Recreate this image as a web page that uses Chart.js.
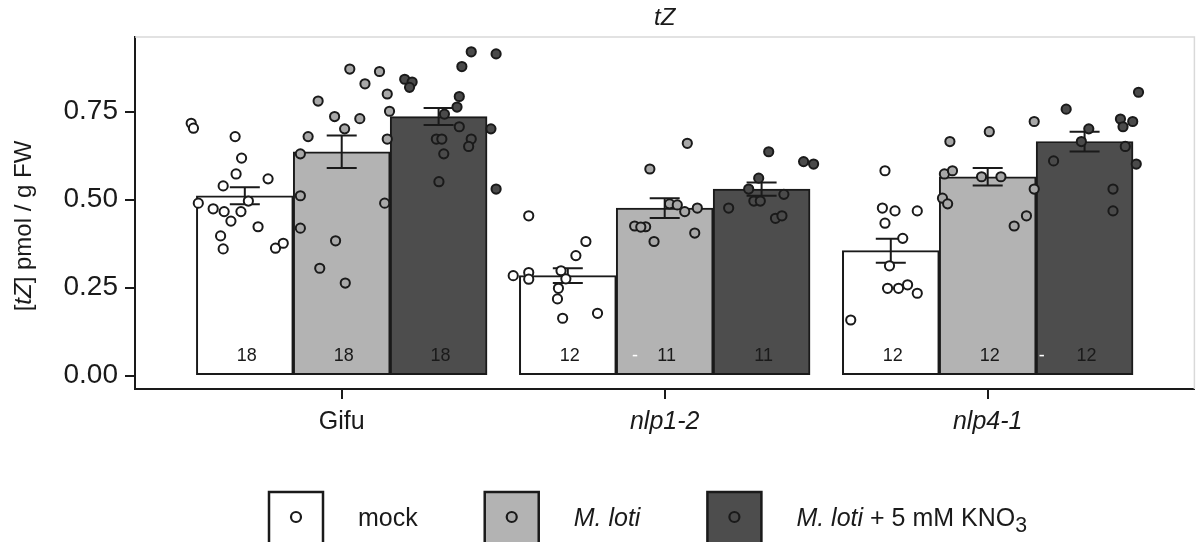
<!DOCTYPE html>
<html>
<head>
<meta charset="utf-8">
<script src="https://cdn.jsdelivr.net/npm/chart.js@4.4.1/dist/chart.umd.min.js"></script>
<style>
  html, body { margin: 0; padding: 0; background: #fff; }
</style>
</head>
<body>
<canvas id="chart" width="1201" height="542"></canvas>
<script>
const genotypes = ['Gifu', 'nlp1-2', 'nlp4-1']
const treatments = ['mock', 'M. loti', 'M. loti + 5 mM KNO3']

const meanMock = [0.511, 0.284, 0.355]
const meanLoti = [0.636, 0.476, 0.565]
const meanKno3 = [0.736, 0.530, 0.665]
const seMock = [0.024, 0.021, 0.034]
const seLoti = [0.046, 0.028, 0.025]
const seKno3 = [0.024, 0.019, 0.028]
const countMock = ['18', '12', '12']
const countLoti = ['18', '11', '12']
const countKno3 = ['18', '11', '12']

const yTicks = [0, 0.25, 0.5, 0.75]
const yTickLabels = ['0.00', '0.25', '0.50', '0.75']

// single samples: [genotype position + jitter, value]
const pointsMock = [
  [0.534, 0.717], [0.541, 0.703], [0.670, 0.679], [0.690, 0.618], [0.673, 0.573], [0.633, 0.539],
  [0.772, 0.559], [0.556, 0.490], [0.602, 0.474], [0.636, 0.466], [0.688, 0.466], [0.711, 0.496],
  [0.657, 0.439], [0.741, 0.423], [0.625, 0.397], [0.633, 0.360], [0.795, 0.362], [0.819, 0.376],
  [1.531, 0.284], [1.579, 0.293], [1.579, 0.274], [1.579, 0.454], [1.679, 0.298], [1.694, 0.275],
  [1.756, 0.381], [1.725, 0.341], [1.671, 0.248], [1.668, 0.218], [1.684, 0.163], [1.792, 0.177],
  [2.682, 0.582], [2.674, 0.476], [2.713, 0.468], [2.782, 0.468], [2.682, 0.433], [2.737, 0.390],
  [2.696, 0.312], [2.690, 0.248], [2.724, 0.248], [2.752, 0.258], [2.782, 0.234], [2.576, 0.158]
]
const pointsLoti = [
  [0.927, 0.780], [1.025, 0.871], [1.117, 0.864], [1.072, 0.829], [1.141, 0.800], [1.148, 0.751],
  [0.978, 0.736], [1.056, 0.730], [1.009, 0.701], [0.896, 0.679], [1.141, 0.672], [0.872, 0.630],
  [0.872, 0.511], [1.133, 0.490], [0.872, 0.419], [0.981, 0.383], [0.932, 0.305], [1.011, 0.263],
  [2.070, 0.660], [1.954, 0.587], [2.015, 0.488], [2.039, 0.485], [2.062, 0.466], [2.101, 0.476],
  [1.907, 0.425], [1.941, 0.423], [1.926, 0.422], [1.967, 0.381], [2.093, 0.405],
  [2.883, 0.665], [3.005, 0.693], [3.144, 0.722], [2.866, 0.573], [2.891, 0.582], [2.981, 0.565],
  [3.041, 0.565], [3.144, 0.530], [2.860, 0.504], [2.876, 0.488], [3.120, 0.454], [3.082, 0.425]
]
const pointsKno3 = [
  [1.401, 0.920], [1.478, 0.914], [1.372, 0.878], [1.195, 0.842], [1.218, 0.834], [1.210, 0.819],
  [1.364, 0.793], [1.357, 0.763], [1.318, 0.743], [1.364, 0.707], [1.462, 0.701], [1.293, 0.672],
  [1.310, 0.672], [1.401, 0.672], [1.393, 0.651], [1.316, 0.630], [1.301, 0.551], [1.478, 0.530],
  [2.322, 0.636], [2.430, 0.608], [2.461, 0.601], [2.291, 0.561], [2.260, 0.530], [2.369, 0.515],
  [2.198, 0.476], [2.276, 0.496], [2.296, 0.496], [2.343, 0.447], [2.363, 0.454],
  [3.467, 0.805], [3.243, 0.757], [3.411, 0.729], [3.449, 0.722], [3.419, 0.707], [3.313, 0.701],
  [3.290, 0.665], [3.204, 0.610], [3.426, 0.651], [3.460, 0.601], [3.388, 0.530], [3.388, 0.468]
]

const FONT = '"Liberation Sans", Arial, Helvetica, sans-serif'
const INK = '#1a1a1a'
const fills = ['#ffffff', '#b3b3b3', '#4d4d4d']
const pointFills = ['#ffffff', '#a8a8a8', '#4a4a4a']
const dodge = [-0.3, 0, 0.3]
const countY = 0.056

const means = [meanMock, meanLoti, meanKno3]
const ses = [seMock, seLoti, seKno3]
const counts = [countMock, countLoti, countKno3]
const points = [pointsMock, pointsLoti, pointsKno3]

const barSets = means.map((m, t) => ({
  type: 'bar',
  label: treatments[t],
  data: m.map((v, g) => ({ x: g + 1 + dodge[t], y: v })),
  backgroundColor: fills[t],
  borderColor: INK,
  borderWidth: 2,
  borderSkipped: false,
  grouped: false,
  categoryPercentage: 1,
  barPercentage: 1,
  order: 2
}))

const pointSets = points.map((p, t) => ({
  type: 'scatter',
  label: treatments[t] + ' samples',
  data: p.map(([x, y]) => ({ x, y })),
  backgroundColor: pointFills[t],
  borderColor: INK,
  borderWidth: 2,
  pointRadius: 4.6,
  order: 1
}))

function setFont(ctx, size, italic) {
  ctx.font = (italic ? 'italic ' : '') + size + 'px ' + FONT
}

function drawRuns(ctx, runs, x, y, size) {
  // runs: [text, italic, subscript]
  for (const [text, italic, sub] of runs) {
    const s = sub ? size * 0.85 : size
    setFont(ctx, s, italic)
    ctx.fillText(text, x, y + (sub ? size * 0.22 : 0))
    x += ctx.measureText(text).width
  }
  return x
}

function runsWidth(ctx, runs, size) {
  let w = 0
  for (const [text, italic, sub] of runs) {
    setFont(ctx, sub ? size * 0.85 : size, italic)
    w += ctx.measureText(text).width
  }
  return w
}

const decorations = {
  id: 'decorations',
  beforeDatasetsDraw(chart) {
    const { ctx, chartArea: a } = chart
    ctx.save()
    ctx.strokeStyle = '#d9d9d9'
    ctx.lineWidth = 1.5
    ctx.beginPath()
    ctx.moveTo(a.left, a.top)
    ctx.lineTo(a.right, a.top)
    ctx.lineTo(a.right, a.bottom)
    ctx.stroke()
    ctx.restore()
  },
  afterDatasetDraw(chart, args) {
    // dataset 0 is the last bar set painted, points come after
    if (args.index !== 0) return
    const { ctx, scales: { x, y } } = chart
    ctx.save()
    ctx.strokeStyle = INK
    ctx.lineWidth = 2
    means.forEach((m, t) => {
      m.forEach((v, g) => {
        const px = x.getPixelForValue(g + 1 + dodge[t])
        const hi = y.getPixelForValue(v + ses[t][g])
        const lo = y.getPixelForValue(v - ses[t][g])
        ctx.beginPath()
        ctx.moveTo(px, hi); ctx.lineTo(px, lo)
        ctx.moveTo(px - 15, hi); ctx.lineTo(px + 15, hi)
        ctx.moveTo(px - 15, lo); ctx.lineTo(px + 15, lo)
        ctx.stroke()
      })
    })
    setFont(ctx, 18, false)
    ctx.fillStyle = INK
    ctx.textAlign = 'center'
    ctx.textBaseline = 'middle'
    counts.forEach((c, t) => {
      c.forEach((n, g) => {
        ctx.fillText(n, x.getPixelForValue(g + 1 + dodge[t]) + 2, y.getPixelForValue(countY))
      })
    })
    // small white dashes that sit inside two bars
    ctx.fillStyle = '#ffffff'
    ctx.fillText('-', x.getPixelForValue(1.908), y.getPixelForValue(countY))
    ctx.fillText('-', x.getPixelForValue(3.167), y.getPixelForValue(countY))
    ctx.restore()
  },
  afterDraw(chart) {
    const ctx = chart.ctx
    ctx.save()
    ctx.fillStyle = INK
    ctx.textBaseline = 'alphabetic'
    ctx.textAlign = 'left'

    // y axis title
    const titleRuns = [['[', false], ['tZ', true], ['] pmol / g FW', false]]
    const tw = runsWidth(ctx, titleRuns, 24)
    ctx.save()
    ctx.translate(31, 226)
    ctx.rotate(-Math.PI / 2)
    drawRuns(ctx, titleRuns, -tw / 2, 0, 24)
    ctx.restore()

    // legend
    const items = [
      [['mock', false]],
      [['M. loti', true]],
      [['M. loti', true], [' + 5 mM KNO', false], ['3', false, true]]
    ]
    let lx = 269
    const top = 492, box = 54
    items.forEach((runs, t) => {
      ctx.fillStyle = fills[t]
      ctx.fillRect(lx, top, box, box)
      ctx.strokeStyle = INK
      ctx.lineWidth = 2.5
      ctx.strokeRect(lx, top, box, box)
      ctx.beginPath()
      ctx.arc(lx + box / 2, top + 25, 5, 0, Math.PI * 2)
      ctx.fillStyle = pointFills[t]
      ctx.fill()
      ctx.lineWidth = 2.2
      ctx.stroke()
      ctx.fillStyle = INK
      const end = drawRuns(ctx, runs, lx + box + 35, 526, 25)
      lx = end + 67
    })
    ctx.restore()
  }
}

new Chart(document.getElementById('chart'), {
  type: 'bar',
  data: { datasets: [...barSets, ...pointSets] },
  options: {
    responsive: false,
    animation: false,
    devicePixelRatio: 1,
    layout: { padding: { top: 0, right: 2, bottom: 0, left: 0 } },
    plugins: {
      legend: { display: false },
      tooltip: { enabled: false },
      title: {
        display: true,
        text: 'tZ',
        fullSize: false,
        color: INK,
        font: { family: FONT, size: 24, style: 'italic', weight: 'normal' },
        padding: { top: 4, bottom: 4.2 }
      }
    },
    scales: {
      x: {
        type: 'linear',
        min: 0.36,
        max: 3.64,
        offset: false,
        afterBuildTicks: (scale) => { scale.ticks = genotypes.map((g, i) => ({ value: i + 1 })) },
        afterFit: (scale) => { scale.height = 153 },
        grid: { offset: false, drawOnChartArea: false, drawTicks: true, tickLength: 10, color: INK, lineWidth: 2 },
        border: { display: true, color: INK, width: 2 },
        ticks: {
          padding: 8,
          maxRotation: 0,
          color: INK,
          callback: (value, index) => genotypes[index],
          font: (c) => ({ family: FONT, size: 25, style: c.index === 0 ? 'normal' : 'italic' })
        }
      },
      y: {
        type: 'linear',
        min: -0.038,
        max: 0.962,
        afterBuildTicks: (scale) => { scale.ticks = yTicks.map(v => ({ value: v })) },
        afterFit: (scale) => { scale.width = 135 },
        grid: { drawOnChartArea: false, drawTicks: true, tickLength: 10, color: INK, lineWidth: 2 },
        border: { display: true, color: INK, width: 2 },
        ticks: {
          padding: 7,
          color: INK,
          callback: (value, index) => yTickLabels[index],
          font: { family: FONT, size: 28 }
        }
      }
    }
  },
  plugins: [decorations]
})
</script>
</body>
</html>
